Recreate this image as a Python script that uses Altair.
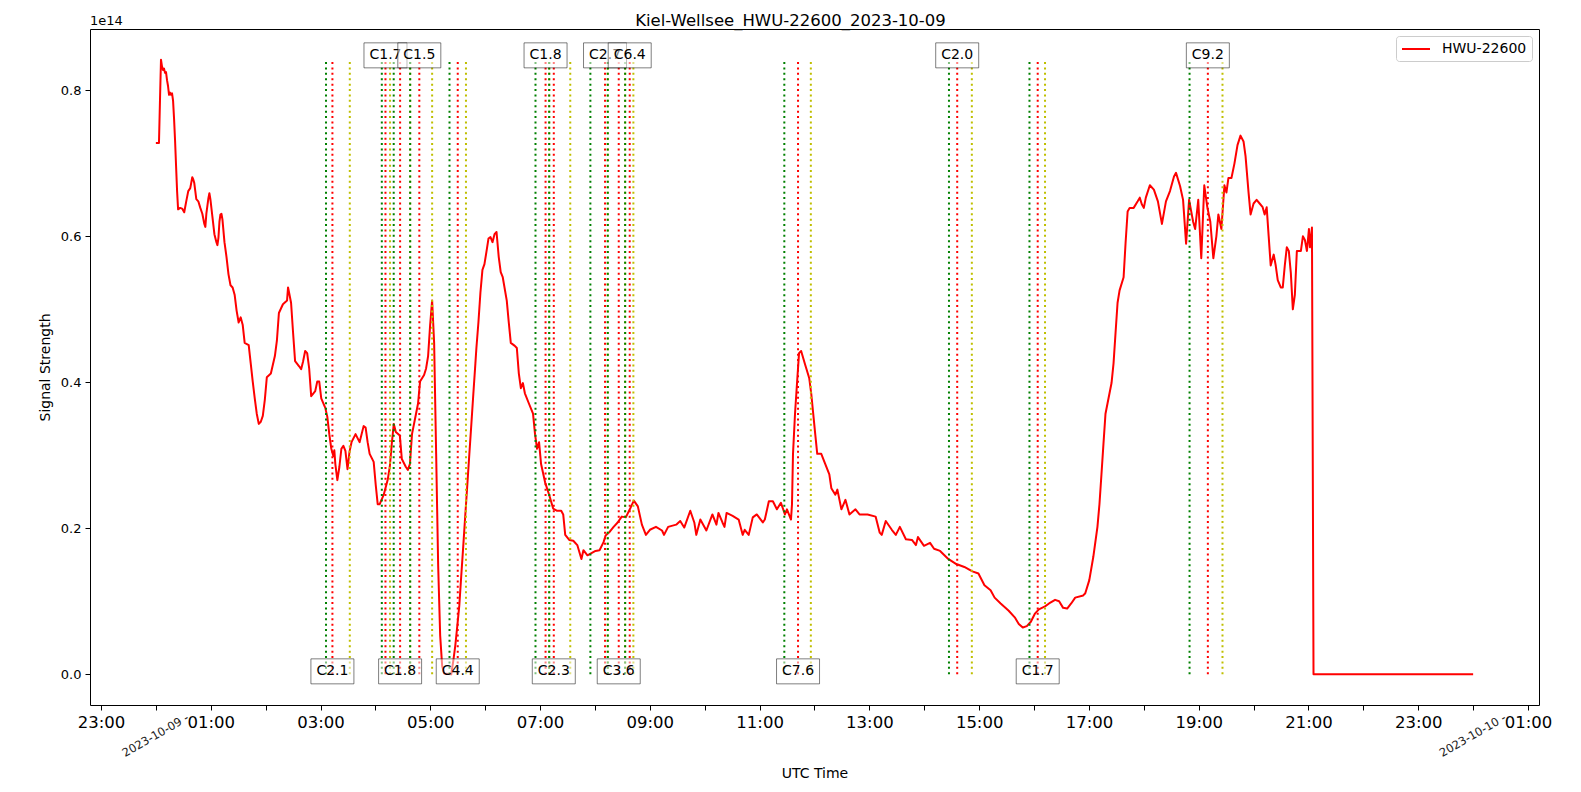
import altair as alt
import pandas as pd

# ---------------- data ----------------
# minutes after 2023-10-09 00:00 UTC
t_min = [0, 3.4, 4.5, 5.6, 6.7, 7.8, 8.9, 10.0, 11.1, 12.2, 13.3, 14.4, 15.5, 16.6, 17.7, 18.8,
         19.9, 21.0, 22.1, 23.2, 24.3, 26.5, 28.7, 31.0, 33.2, 35.4, 37.6, 39.8, 40.9, 42.0, 44.2,
         46.4, 48.6, 50.8, 53.0, 54.1, 55.2, 57.4, 58.5, 59.6, 61.8, 64.0, 66.2, 67.3, 68.4, 69.5,
         70.6, 71.7, 72.8, 75.0, 77.2, 79.4, 81.6, 83.9, 86.1, 88.3, 90.5, 92.7, 94.9, 97.1, 101.5,
         103.7, 105.9, 108.1, 110.3, 112.5, 114.7, 116.9, 119.1, 121.3, 125.7, 127.9, 130.1, 132.3,
         134.5, 138.9, 143.4, 144.5, 145.6, 147.8, 150.0, 152.2, 156.6, 158.8, 161.0, 163.2, 165.4,
         167.6, 169.8, 174.2, 176.4, 178.6, 180.8, 185.2, 187.4, 189.6, 191.8, 194.0, 195.1, 196.2,
         198.4, 200.6, 202.8, 205.0, 207.2, 209.5, 211.7, 213.9, 218.3, 222.7, 227.1, 229.3, 231.5,
         233.7, 238.1, 240.3, 242.5, 244.7, 249.1, 253.5, 255.7, 257.9, 260.1, 262.3, 266.7, 268.9,
         273.3, 275.5, 277.7, 280.0, 284.4, 286.6, 288.8, 293.2, 295.4, 297.6, 299.8, 302.0, 304.2,
         306.4, 308.6, 310.8, 313.0, 315.2, 322.9, 325.1, 327.3, 329.5, 331.7, 333.9, 336.1, 338.3,
         340.5, 342.7, 344.9, 347.1, 349.3, 350.4, 352.6, 354.8, 357.0, 359.2, 361.4, 363.6, 365.8,
         368.0, 370.2, 372.4, 374.8, 377.0, 379.2, 383.6, 385.8, 388.0, 392.4, 394.6, 396.8, 399.0,
         401.2, 403.4, 407.8, 412.3, 414.5, 416.7, 418.9, 421.1, 425.5, 429.9, 434.3, 438.7, 443.1,
         445.3, 447.5, 451.9, 456.3, 460.7, 465.2, 467.4, 471.8, 480.6, 485.0, 489.4, 491.6, 496.0,
         500.4, 504.8, 509.3, 513.7, 518.1, 522.5, 526.9, 531.3, 535.7, 540.1, 546.7, 553.3, 555.5,
         560.0, 568.8, 573.2, 577.6, 584.2, 588.6, 590.8, 595.2, 601.8, 608.4, 612.8, 615.0, 619.4,
         621.6, 623.9, 630.5, 637.1, 641.5, 643.7, 648.1, 652.5, 656.9, 663.5, 665.7, 670.1, 674.5,
         678.9, 683.3, 687.7, 689.9, 694.3, 695.4, 696.5, 698.7, 700.9, 703.1, 705.4, 709.8, 714.2,
         716.4, 718.6, 720.8, 723.0, 727.4, 731.8, 736.2, 738.4, 742.8, 745.0, 749.4, 753.8, 758.2,
         764.8, 769.2, 778.0, 786.8, 791.3, 793.5, 797.9, 804.5, 808.9, 813.3, 819.9, 826.5, 830.9,
         833.1, 839.7, 846.3, 850.7, 857.3, 866.2, 875.0, 883.8, 892.6, 899.2, 905.8, 912.5, 916.9,
         923.5, 932.3, 938.9, 943.3, 947.7, 952.1, 956.5, 960.9, 965.3, 972.0, 976.4, 983.0, 987.4,
         991.8, 996.2, 1000.6, 1005.0, 1013.8, 1016.0, 1020.4, 1024.8, 1029.3, 1031.5, 1033.7,
         1035.9, 1038.1, 1040.3, 1042.5, 1044.7, 1046.9, 1049.1, 1051.3, 1053.5, 1057.9, 1060.1,
         1062.3, 1064.5, 1068.9, 1073.3, 1075.6, 1077.8, 1080.0, 1082.2, 1086.6, 1091.0, 1095.4,
         1099.8, 1104.2, 1108.6, 1113.0, 1115.2, 1119.6, 1122.9, 1126.2, 1129.5, 1133.9, 1136.1,
         1139.5, 1142.8, 1146.1, 1149.4, 1152.7, 1156.0, 1159.3, 1161.5, 1164.8, 1168.1, 1170.3,
         1172.5, 1175.8, 1179.1, 1182.4, 1185.7, 1189.0, 1191.2, 1194.5, 1196.7, 1200.0, 1203.3,
         1206.6, 1209.9, 1212.1, 1214.3, 1216.5, 1218.7, 1222.0, 1224.2, 1226.4, 1229.7, 1231.9,
         1234.1, 1236.3, 1238.5, 1240.7, 1242.9, 1245.1, 1247.3, 1249.5, 1251.7, 1253.9, 1256.1,
         1258.3, 1260.5, 1261.6, 1263.8, 1265.5, 1440.0]

# signal strength in units of 1e14
signal = [0.728, 0.728, 0.786, 0.842, 0.833, 0.828, 0.830, 0.824, 0.825, 0.814, 0.806, 0.794, 0.797,
          0.794, 0.796, 0.786, 0.761, 0.731, 0.696, 0.662, 0.637, 0.639, 0.638, 0.633, 0.648, 0.662,
          0.666, 0.681, 0.678, 0.673, 0.651, 0.648, 0.639, 0.631, 0.617, 0.613, 0.631, 0.652, 0.659,
          0.651, 0.627, 0.603, 0.592, 0.588, 0.598, 0.620, 0.630, 0.631, 0.623, 0.592, 0.572, 0.548,
          0.533, 0.530, 0.520, 0.498, 0.482, 0.489, 0.479, 0.454, 0.451, 0.426, 0.401, 0.378, 0.357,
          0.343, 0.346, 0.354, 0.376, 0.407, 0.412, 0.424, 0.436, 0.457, 0.495, 0.507, 0.512, 0.530,
          0.523, 0.509, 0.468, 0.429, 0.422, 0.418, 0.429, 0.443, 0.440, 0.419, 0.381, 0.388, 0.401,
          0.401, 0.378, 0.365, 0.353, 0.329, 0.309, 0.299, 0.307, 0.288, 0.266, 0.284, 0.309, 0.313,
          0.306, 0.281, 0.305, 0.318, 0.329, 0.318, 0.340, 0.338, 0.318, 0.302, 0.291, 0.260, 0.233,
          0.233, 0.246, 0.267, 0.284, 0.316, 0.343, 0.332, 0.327, 0.295, 0.284, 0.280, 0.288, 0.329,
          0.357, 0.371, 0.401, 0.410, 0.419, 0.436, 0.478, 0.512, 0.454, 0.302, 0.149, 0.053, 0.011,
          0.001, 0.000, 0.018, 0.039, 0.066, 0.094, 0.136, 0.177, 0.219, 0.260, 0.302, 0.343, 0.385,
          0.426, 0.447, 0.482, 0.523, 0.554, 0.562, 0.579, 0.597, 0.599, 0.592, 0.603, 0.606, 0.572,
          0.551, 0.544, 0.512, 0.482, 0.454, 0.450, 0.447, 0.412, 0.392, 0.399, 0.385, 0.371, 0.357,
          0.329, 0.309, 0.318, 0.288, 0.263, 0.246, 0.227, 0.224, 0.224, 0.219, 0.191, 0.184, 0.183,
          0.177, 0.158, 0.170, 0.163, 0.169, 0.170, 0.181, 0.190, 0.195, 0.202, 0.208, 0.216, 0.215,
          0.226, 0.238, 0.230, 0.205, 0.191, 0.198, 0.202, 0.197, 0.191, 0.202, 0.205, 0.210, 0.201,
          0.224, 0.208, 0.191, 0.212, 0.197, 0.219, 0.205, 0.221, 0.208, 0.202, 0.221, 0.217, 0.212,
          0.191, 0.198, 0.191, 0.215, 0.219, 0.208, 0.212, 0.237, 0.237, 0.226, 0.235, 0.219, 0.226,
          0.212, 0.233, 0.302, 0.357, 0.399, 0.440, 0.443, 0.424, 0.406, 0.385, 0.357, 0.329, 0.302,
          0.302, 0.288, 0.274, 0.255, 0.246, 0.253, 0.226, 0.239, 0.219, 0.226, 0.219, 0.219, 0.216,
          0.194, 0.191, 0.210, 0.198, 0.191, 0.202, 0.185, 0.184, 0.177, 0.188, 0.176, 0.180, 0.172,
          0.169, 0.158, 0.151, 0.147, 0.141, 0.138, 0.122, 0.115, 0.105, 0.097, 0.087, 0.078, 0.069,
          0.064, 0.066, 0.072, 0.083, 0.089, 0.093, 0.097, 0.102, 0.100, 0.091, 0.090, 0.097, 0.105,
          0.108, 0.111, 0.129, 0.161, 0.202, 0.233, 0.274, 0.316, 0.357, 0.371, 0.385, 0.399, 0.426,
          0.468, 0.509, 0.526, 0.544, 0.592, 0.634, 0.639, 0.639, 0.648, 0.653, 0.644, 0.639, 0.653,
          0.670, 0.664, 0.648, 0.617, 0.648, 0.662, 0.682, 0.687, 0.669, 0.650, 0.590, 0.650, 0.620,
          0.610, 0.650, 0.570, 0.670, 0.640, 0.620, 0.570, 0.600, 0.630, 0.610, 0.670, 0.660, 0.680,
          0.680, 0.700, 0.725, 0.738, 0.730, 0.710, 0.660, 0.630, 0.645, 0.650, 0.645, 0.640, 0.630,
          0.640, 0.600, 0.560, 0.575, 0.560, 0.540, 0.530, 0.530, 0.560, 0.585, 0.580, 0.550, 0.500,
          0.520, 0.580, 0.580, 0.580, 0.600, 0.595, 0.580, 0.610, 0.585, 0.612, 0.000, 0.000]

flare_class = ["C2.1", "C1.7", "C1.8", "C1.5", "C4.4", "C1.8", "C2.3",
               "C2.7", "C3.6", "C6.4", "C7.6", "C2.0", "C1.7", "C9.2"]
flare_start = ["03:06", "04:07", "04:20", "04:38", "05:21", "06:55", "07:10",
               "07:55", "08:14", "08:33", "11:27", "14:27", "15:55", "18:50"]
flare_peak = ["03:13", "04:11", "04:27", "04:48", "05:30", "07:06", "07:15",
              "08:11", "08:26", "08:38", "11:42", "14:36", "16:04", "19:10"]
flare_end = ["03:32", "04:16", "04:38", "05:02", "05:39", "07:10", "07:33",
             "08:14", "08:33", "08:42", "11:56", "14:52", "16:12", "19:26"]

series_name = "HWU-22600"
title_text = "Kiel-Wellsee_HWU-22600_2023-10-09"
date_labels = ["2023-10-09 -", "2023-10-10 -"]
date_hours = [0, 24]
y_ticks = [0.0, 0.2, 0.4, 0.6, 0.8]


def to_hours(s):
    h, m = s.split(":")
    return int(h) + int(m) / 60.0


# ---------------- frames ----------------
ymax = max(signal)
span = 24.0
x_dom = [-0.05 * span, span * 1.05]
y_dom = [-0.05 * ymax, ymax * 1.05]
W, H = 1449, 676

curve_df = pd.DataFrame({"hour": [t / 60.0 for t in t_min], "signal": signal,
                         "series": series_name})

vl_rows = []
for s, p, e in zip(flare_start, flare_peak, flare_end):
    vl_rows.append({"hour": to_hours(s), "kind": "start", "y0": 0.0, "y1": ymax})
    vl_rows.append({"hour": to_hours(p), "kind": "peak", "y0": 0.0, "y1": ymax})
    vl_rows.append({"hour": to_hours(e), "kind": "end", "y0": 0.0, "y1": ymax})
vl_df = pd.DataFrame(vl_rows)

label_df = pd.DataFrame({
    "idx": list(range(len(flare_class))),
    "hour": [to_hours(p) for p in flare_peak],
    "cls": flare_class,
    "ly": [0.004 if i % 2 == 0 else 0.848 for i in range(len(flare_class))],
})

date_df = pd.DataFrame({"hour": date_hours, "label": date_labels})

# ---------------- encodings ----------------
x_axis = alt.Axis(
    values=list(range(-1, 26)),
    labelExpr="datum.value % 2 != 0 ? format((datum.value + 24) % 24, '02d') + ':00' : ''",
    labelFontSize=16.5, labelPadding=4, tickSize=5, labelOverlap=False, labelFlush=False,
    title="UTC Time", titleFontSize=14, titleFontWeight="normal", titlePadding=36,
)
y_axis = alt.Axis(
    values=y_ticks, format=".1f", labelFontSize=13, labelPadding=4, tickSize=5,
    title="Signal Strength", titleFontSize=14, titleFontWeight="normal", titlePadding=8,
)
X = alt.X("hour:Q", scale=alt.Scale(domain=x_dom, nice=False, zero=False), axis=x_axis)
x_scale = alt.Scale(domain=x_dom, nice=False, zero=False)
y_scale = alt.Scale(domain=y_dom, nice=False, zero=False)

LEGEND_LINE = "M-1,0H3"
curve = alt.Chart(curve_df).mark_line(strokeWidth=2, strokeJoin="round").encode(
    x=X,
    y=alt.Y("signal:Q", scale=y_scale, axis=y_axis),
    color=alt.Color("series:N", scale=alt.Scale(range=["#ff0000"]),
                    legend=alt.Legend(title=None, orient="top-right", offset=7,
                                      symbolType=LEGEND_LINE, symbolSize=196,
                                      symbolStrokeWidth=2, labelFontSize=14,
                                      labelOffset=25, padding=5,
                                      strokeColor="#cccccc",
                                      fillColor="rgba(255,255,255,0.8)",
                                      cornerRadius=3, labelColor="black")),
)

layers = [curve]
for kind, col in [("end", "#bfbf00"), ("peak", "#ff0000"), ("start", "#008000")]:
    layers.append(
        alt.Chart(vl_df).transform_filter(alt.datum.kind == kind)
        .mark_rule(color=col, strokeWidth=2, strokeDash=[2, 3.4])
        .encode(x=alt.X("hour:Q", scale=x_scale),
                y=alt.Y("y0:Q", scale=y_scale), y2="y1:Q")
    )

BOX = "M-1,-0.5814H1V0.5814H-1Z"
for i in range(len(flare_class)):
    base = alt.Chart(label_df).transform_filter(alt.datum.idx == i)
    layers.append(
        base.mark_point(shape=BOX, size=1849, filled=True, fill="white", fillOpacity=0.5,
                        stroke="black", strokeOpacity=0.5, strokeWidth=1, opacity=1)
        .encode(x=alt.X("hour:Q", scale=x_scale), y=alt.Y("ly:Q", scale=y_scale))
    )
    layers.append(
        base.mark_text(fontSize=14, color="black", align="center", baseline="middle")
        .encode(x=alt.X("hour:Q", scale=x_scale), y=alt.Y("ly:Q", scale=y_scale),
                text="cls:N")
    )

layers.append(
    alt.Chart(date_df).mark_text(angle=330, fontSize=11.5, align="center",
                                 baseline="middle", color="#222222")
    .encode(x=alt.X("hour:Q", scale=x_scale), y=alt.value(H + 31), text="label:N")
)
layers.append(
    alt.Chart(pd.DataFrame({"t": ["1e14"]})).mark_text(
        align="left", baseline="alphabetic", fontSize=13, color="black")
    .encode(x=alt.value(0), y=alt.value(-4), text="t:N")
)
# figure title, centred on the whole figure
layers.append(
    alt.Chart(pd.DataFrame({"t": [title_text]})).mark_text(
        align="center", baseline="alphabetic", fontSize=16.5, color="black")
    .encode(x=alt.value(W / 2 - 24), y=alt.value(-3), text="t:N")
)

chart = (
    alt.layer(*layers)
    .properties(
        width=W, height=H,
        padding={"left": 82, "top": 21, "right": 34, "bottom": 76},
        autosize=alt.AutoSizeParams(type="none"),
    )
    .configure(font="DejaVu Sans")
    .configure_view(stroke="black", strokeWidth=1)
    .configure_axis(domain=False, grid=False, tickColor="black", labelColor="black",
                    titleColor="black", tickWidth=1)
)

chart.save("out.html", embed_options={"renderer": "svg", "actions": False})
